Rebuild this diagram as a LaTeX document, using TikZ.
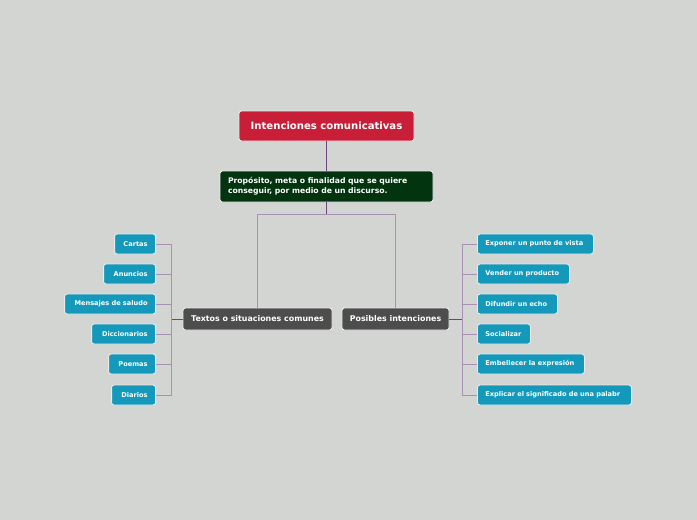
\documentclass[tikz,border=0pt]{standalone}
\usepackage{fontspec}
\setmainfont{DejaVu Sans}
\definecolor{bg}{RGB}{211,213,210}
\definecolor{titlered}{RGB}{200,30,55}
\definecolor{darkgreen}{RGB}{2,52,16}
\definecolor{midgrey}{RGB}{77,77,77}
\definecolor{leafblue}{RGB}{20,153,187}
\definecolor{linedark}{RGB}{108,70,125}
\definecolor{linelight}{RGB}{168,145,178}
\tikzset{
  box/.style={rectangle, rounded corners=2.5pt, draw=white!92!black, line width=0.9pt, text=white, font=\bfseries, inner sep=0pt},
  titlebox/.style={box, fill=titlered, font=\bfseries\fontsize{10.1}{12}\selectfont},
  greenbox/.style={box, fill=darkgreen, font=\bfseries\fontsize{7.7}{10}\selectfont},
  midbox/.style={box, fill=midgrey, font=\bfseries\fontsize{7.9}{9.5}\selectfont},
  leaf/.style={box, fill=leafblue, minimum height=20pt, font=\bfseries\fontsize{6.6}{8}\selectfont},
  lleaf/.style={leaf, anchor=east, text width=#1-16pt, align=right, minimum width=#1},
  rleaf/.style={leaf, anchor=west, text width=#1-16pt, align=left, minimum width=#1},
  darkline/.style={draw=linedark, line width=0.9pt},
  lightline/.style={draw=linelight, line width=0.9pt}
}
\begin{document}
\begin{tikzpicture}[x=1pt,y=-1pt]
\fill[bg] (0,0) rectangle (697,520);
\useasboundingbox (0,0) rectangle (697,520);

\node[titlebox, minimum width=175pt, minimum height=30pt] (title) at (326.5,126) {Intenciones comunicativas};
\node[greenbox, minimum width=213pt, minimum height=31pt, text width=197pt, align=left] (goal) at (326.5,186.5) {Propósito, meta o finalidad que se quiere\\conseguir, por medio de un discurso.};
\node[midbox, minimum width=149pt, minimum height=22pt] (textos) at (257.5,319) {Textos o situaciones comunes};
\node[midbox, minimum width=107pt, minimum height=22pt] (posibles) at (395.5,319) {Posibles intenciones};

% left leaves (right edge at 156)
\node[lleaf=41pt] (cartas) at (156,244) {Cartas};
\node[lleaf=52pt] (anuncios) at (156,274) {Anuncios};
\node[lleaf=91pt] (mensajes) at (156,304) {Mensajes de saludo};
\node[lleaf=64pt] (dicc) at (156,334) {Diccionarios};
\node[lleaf=47pt] (poemas) at (156,364) {Poemas};
\node[lleaf=44pt] (diarios) at (156,395) {Diarios};

% right leaves (left edge at 477)
\node[rleaf=116pt] (exponer) at (477,244) {Exponer un punto de vista};
\node[rleaf=92pt] (vender) at (477,274) {Vender un producto};
\node[rleaf=80pt] (difundir) at (477,304) {Difundir un echo};
\node[rleaf=53pt] (social) at (477,334) {Socializar};
\node[rleaf=107pt] (embel) at (477,364) {Embellecer la expresión};
\node[rleaf=154pt] (explicar) at (477,395) {Explicar el significado de una palabr};

% connectors
\draw[darkline] (title.south) -- (goal.north);
\coordinate (j) at (326.5,214);
\draw[darkline] (goal.south) -- (j);
\draw[lightline] (j) -| (textos.north);
\draw[lightline] (j) -| (posibles.north);

\coordinate (lb) at (171,319);
\draw[darkline] (textos.west) -- (lb);
\foreach \n in {cartas,anuncios,mensajes,dicc,poemas,diarios}
  \draw[lightline] (lb) |- (\n.east);

\coordinate (rb) at (462,319);
\draw[darkline] (posibles.east) -- (rb);
\foreach \n in {exponer,vender,difundir,social,embel,explicar}
  \draw[lightline] (rb) |- (\n.west);
\end{tikzpicture}
\end{document}
